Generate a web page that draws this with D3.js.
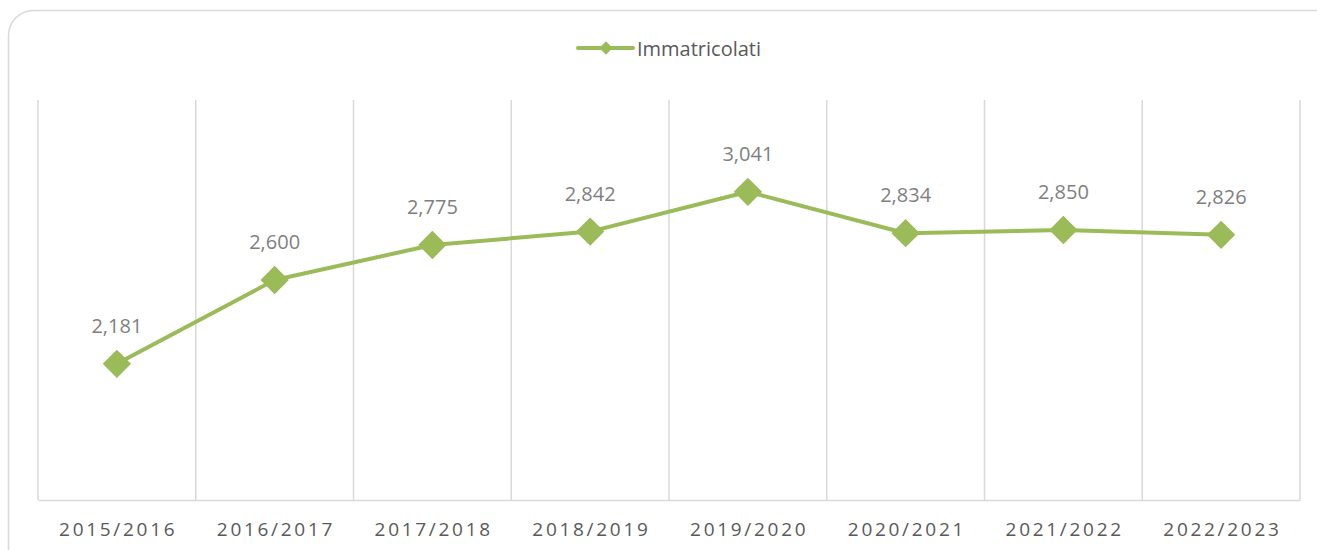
<!DOCTYPE html>
<html lang="en">
<head>
	<meta charset="utf-8">
	<title>Immatricolati</title>
	<script src="https://cdn.jsdelivr.net/npm/d3@7"></script>
	<style>
		body { margin: 0; background: #fff; }
		svg { display: block; font-family: "Open Sans", sans-serif; }
	</style>
</head>
<body>
	<script>
		const years = ["2015/2016", "2016/2017", "2017/2018", "2018/2019", "2019/2020", "2020/2021", "2021/2022", "2022/2023"];
		const immatricolati = [2181, 2600, 2775, 2842, 3041, 2834, 2850, 2826];
		const seriesName = "Immatricolati";
		const yDomain = [1500, 3500];

		const w = 1317;
		const h = 550;
		const padLeft = 38, padRight = 1300, padTop = 100, padBottom = 500;
		const green = "#9bbb59";
		const grid = "#d9d9d9";

		const svg = d3.select("body").append("svg")
			.attr("width", w)
			.attr("height", h);

		// chart frame (runs off the right and bottom edge)
		svg.append("rect")
			.attr("x", 8.5).attr("y", 10.5)
			.attr("width", 1340).attr("height", 580)
			.attr("rx", 25).attr("ry", 25)
			.attr("fill", "white")
			.attr("stroke", grid)
			.attr("stroke-width", 1.5);

		const x = d3.scaleBand()
			.domain(years)
			.range([padLeft, padRight]);

		const y = d3.scaleLinear()
			.domain(yDomain)
			.range([padBottom, padTop]);

		// vertical gridlines at category borders
		const borders = years.map(d => x(d)).concat([padRight]);
		svg.selectAll("line.grid")
			.data(borders)
			.enter()
			.append("line")
			.attr("class", "grid")
			.attr("x1", d => d).attr("x2", d => d)
			.attr("y1", padTop).attr("y2", padBottom)
			.attr("stroke", grid)
			.attr("stroke-width", 1.5);

		// x axis
		const xAxis = d3.axisBottom(x).tickSize(0).tickPadding(0);
		const gx = svg.append("g")
			.attr("transform", `translate(0,${padBottom})`)
			.call(xAxis);
		gx.select(".domain").attr("stroke", grid).attr("stroke-width", 1.5);
		gx.selectAll("text")
			.attr("y", 36)
			.attr("dy", 0)
			.attr("dx", 1.3)
			.attr("font-family", "Open Sans, sans-serif")
			.attr("font-size", "19px")
			.attr("letter-spacing", "2.7px")
			.attr("fill", "#595959");

		// line
		const line = d3.line()
			.x((d, i) => x(years[i]) + x.bandwidth() / 2)
			.y(d => y(d));

		svg.append("path")
			.datum(immatricolati)
			.attr("d", line)
			.attr("fill", "none")
			.attr("stroke", green)
			.attr("stroke-width", 4)
			.attr("stroke-linejoin", "round");

		const diamond = d3.symbol().type(d3.symbolSquare).size(400);

		svg.selectAll("path.marker")
			.data(immatricolati)
			.enter()
			.append("path")
			.attr("class", "marker")
			.attr("d", diamond)
			.attr("transform", (d, i) => `translate(${x(years[i]) + x.bandwidth() / 2},${y(d)}) rotate(45)`)
			.attr("fill", green);

		// data labels
		svg.selectAll("text.label")
			.data(immatricolati)
			.enter()
			.append("text")
			.attr("class", "label")
			.text(d => d3.format(",")(d))
			.attr("text-anchor", "middle")
			.attr("x", (d, i) => x(years[i]) + x.bandwidth() / 2)
			.attr("y", d => y(d) - 31)
			.attr("font-size", "20px")
			.attr("fill", "#7f7f7f");

		// legend
		const lg = svg.append("g").attr("transform", "translate(606,48)");
		lg.append("line")
			.attr("x1", -28).attr("x2", 27)
			.attr("stroke", green)
			.attr("stroke-width", 4)
			.attr("stroke-linecap", "round");
		lg.append("path")
			.attr("d", d3.symbol().type(d3.symbolSquare).size(90))
			.attr("transform", "rotate(45)")
			.attr("fill", green);
		lg.append("text")
			.text(seriesName)
			.attr("x", 31)
			.attr("y", 8)
			.attr("font-size", "20px")
			.attr("fill", "#595959");
	</script>
</body>
</html>
